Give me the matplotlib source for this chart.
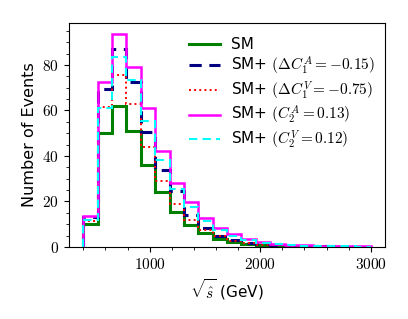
import matplotlib
matplotlib.use("Agg")
import matplotlib.pyplot as plt
from matplotlib.ticker import MultipleLocator, FuncFormatter

plt.rcParams['mathtext.fontset'] = 'cm'

# bin edges in GeV
edges = [400, 530, 660, 790, 920, 1050, 1180, 1310, 1440, 1570, 1700,
         1830, 1960, 2090, 2220, 2350, 2480, 2610, 2740, 2870, 3000]

# events per bin
sm = [10, 50, 62, 51, 36, 24, 15.5, 9.5, 6, 3.6, 2.2, 1.3, 0.8, 0.5, 0.4, 0.3, 0.2, 0.15, 0.1, 0.1]
c1a = [13, 69.3, 86.9, 72.7, 50.4, 33.8, 24.6, 13.9, 8.5, 5.0, 3.1, 1.9, 1.1, 0.7, 0.5, 0.4, 0.3, 0.2, 0.15, 0.1]
c1v = [11.6, 61.7, 75.5, 62.7, 43.8, 29, 18.8, 11.7, 7.3, 4.8, 2.8, 1.7, 1.0, 0.7, 0.5, 0.35, 0.25, 0.2, 0.15, 0.1]
c2a = [13.6, 72.7, 93.6, 79.3, 61.2, 42.3, 28.3, 19.6, 12.6, 8.1, 5.6, 3.4, 2.2, 1.4, 0.9, 0.7, 0.5, 0.4, 0.3, 0.2]
c2v = [12, 61, 83.6, 73.4, 55.5, 38.2, 25.5, 17.4, 11.6, 7.5, 4.7, 3.1, 1.9, 1.2, 0.8, 0.6, 0.4, 0.3, 0.2, 0.15]

fig = plt.figure(figsize=(4.08, 3.19), dpi=100)
ax = fig.add_axes([0.169, 0.226, 0.775, 0.702])

ax.stairs(sm, edges, baseline=0, color='green', lw=2.2, label='SM')
ax.stairs(c1a, edges, baseline=0, color='navy', lw=2.2, ls=(0, (4, 2.5)),
          label=r'SM+ $(\Delta C_1^A=-0.15)$')
ax.stairs(c1v, edges, baseline=0, color='red', lw=1.4, ls=':',
          label=r'SM+ $(\Delta C_1^V=-0.75)$')
ax.stairs(c2a, edges, baseline=0, color='magenta', lw=1.8,
          label=r'SM+ $(C_2^A=0.13)$')
ax.stairs(c2v, edges, baseline=0, color='cyan', lw=1.5, ls=(0, (4, 2.5)),
          label=r'SM+ $(C_2^V=0.12)$')

ax.set_xlim(270, 3130)
ax.set_ylim(0, 98.5)
ax.xaxis.set_major_locator(MultipleLocator(1000))
ax.xaxis.set_minor_locator(MultipleLocator(200))
ax.yaxis.set_major_locator(MultipleLocator(20))
ax.yaxis.set_minor_locator(MultipleLocator(5))
ax.xaxis.set_major_formatter(FuncFormatter(lambda v, p: '$%d$' % v))
ax.yaxis.set_major_formatter(FuncFormatter(lambda v, p: '$%d$' % v))
ax.tick_params(labelsize=11)

ax.set_xlabel(r'$\sqrt{\hat{s}}$ (GeV)', fontsize=11)
ax.set_ylabel('Number of Events', fontsize=11.5)
ax.legend(loc='upper right', frameon=False, fontsize=11, handlelength=2.0,
          handletextpad=0.7, labelspacing=0.17, borderaxespad=0.3,
          bbox_to_anchor=(1.0, 0.985))

fig.savefig('out.png', dpi=100)
